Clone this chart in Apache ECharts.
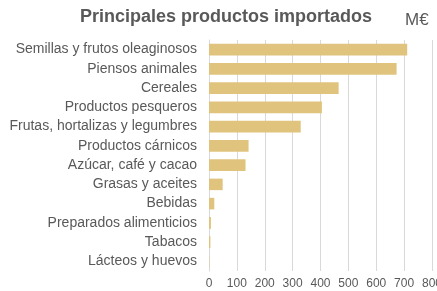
<html>
<head>
<script src="https://cdn.jsdelivr.net/npm/echarts@6.0.0/dist/echarts.min.js"></script>
<style>
  body { margin: 0; background: #fff; }
  #chart { width: 437px; height: 291px; }
</style>
</head>
<body>
<div id="chart"></div>
<script>
  // categories top to bottom, as in the picture
  const categories = [
    'Semillas y frutos oleaginosos',
    'Piensos animales',
    'Cereales',
    'Productos pesqueros',
    'Frutas, hortalizas y legumbres',
    'Productos cárnicos',
    'Azúcar, café y cacao',
    'Grasas y aceites',
    'Bebidas',
    'Preparados alimenticios',
    'Tabacos',
    'Lácteos y huevos'
  ]
  const values = [711, 673, 465, 405, 329, 142, 131, 49, 19, 7, 5, 1]
  const xTicks = [0, 100, 200, 300, 400, 500, 600, 700, 800]

  const chart = echarts.init(document.getElementById('chart'))
  const font = 'Liberation Sans, Arial, sans-serif'

  chart.setOption({
    animation: false,
    textStyle: { fontFamily: font },
    title: [
      {
        text: 'Principales productos importados',
        left: 75, top: 3,
        textStyle: { fontSize: 18, fontWeight: 'bold', color: '#595959', fontFamily: font }
      },
      {
        text: 'M€',
        left: 400, top: 7,
        textStyle: { fontSize: 17, fontWeight: 'normal', color: '#595959', fontFamily: font }
      }
    ],
    grid: { left: 209, right: 5, top: 40, bottom: 20, containLabel: false, outerBoundsMode: 'none' },
    xAxis: {
      type: 'value',
      min: xTicks[0], max: xTicks[xTicks.length - 1], interval: 100,
      axisLine: { show: false },
      axisTick: { show: false },
      axisLabel: { color: '#595959', fontSize: 12, margin: 7, hideOverlap: false },
      splitLine: { show: true, lineStyle: { color: '#d9d9d9', width: 1 } }
    },
    yAxis: {
      type: 'category',
      data: categories,
      inverse: true,
      axisLine: { show: true, lineStyle: { color: '#d9d9d9' } },
      axisTick: { show: false },
      axisLabel: { color: '#595959', fontSize: 14, margin: 12 }
    },
    series: [{
      type: 'bar',
      data: values,
      barCategoryGap: '40%',
      itemStyle: { color: '#e0c47e' }
    }]
  })
</script>
</body>
</html>
